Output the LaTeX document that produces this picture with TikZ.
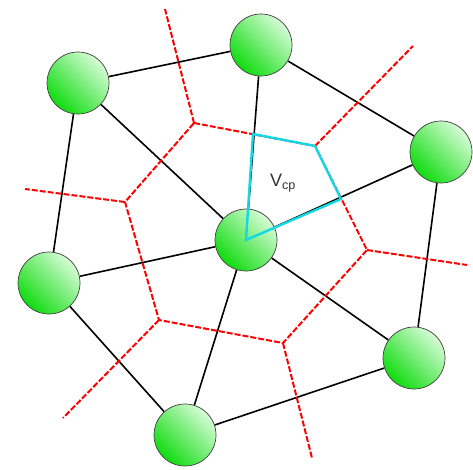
\documentclass[tikz,border=0pt]{standalone}
\usepackage{fontspec}
\setsansfont{Liberation Sans}
\usetikzlibrary{backgrounds}
\definecolor{ballgreen}{RGB}{15,220,15}
\definecolor{ballpale}{RGB}{215,252,215}
\definecolor{cellcyan}{RGB}{20,215,230}
\begin{document}
\begin{tikzpicture}[
  x=1pt, y=-1pt,
  site/.style={circle, draw=black!75, line width=0.7pt, minimum size=62pt, inner sep=0pt,
    bottom color=ballgreen, top color=ballpale, shading angle=-45},
  link/.style={draw=black, line width=1.6pt},
  border/.style={draw=red, line width=2pt, dash pattern=on 6pt off 2pt},
  cell/.style={draw=cellcyan, line width=2.4pt},
  every node/.style={font=\sffamily}
]
\useasboundingbox (0,0) rectangle (473,469);

% sites
\node[site] (A) at (78,83) {};
\node[site] (B) at (261,45) {};
\node[site] (C) at (441,152) {};
\node[site] (D) at (246,240) {};
\node[site] (E) at (49,283) {};
\node[site] (F) at (414,358) {};
\node[site] (G) at (185,435) {};

% voronoi vertices and far ends
\coordinate (v1) at (194,123);
\coordinate (v2) at (315,146);
\coordinate (v3) at (367,250);
\coordinate (v4) at (283,343);
\coordinate (v5) at (159,320);
\coordinate (v6) at (125,202);
\coordinate (r1) at (165,9);
\coordinate (r2) at (413,46);
\coordinate (r3) at (467,265);
\coordinate (r4) at (312,458);
\coordinate (r5) at (63,418);
\coordinate (r6) at (25,189);

\begin{scope}[on background layer]
  % neighbour links
  \draw[link] (A) -- (B);
  \draw[link] (A) -- (E);
  \draw[link] (A) -- (D);
  \draw[link] (B) -- (D);
  \draw[link] (B) -- (C);
  \draw[link] (C) -- (D);
  \draw[link] (C) -- (F);
  \draw[link] (D) -- (E);
  \draw[link] (D) -- (F);
  \draw[link] (D) -- (G);
  \draw[link] (E) -- (G);
  \draw[link] (G) -- (F);
  % cell borders
  \draw[border] (v1) -- (v2) -- (v3) -- (v4) -- (v5) -- (v6) -- cycle;
  \foreach \i in {1,...,6}
    \draw[border] (v\i) -- (r\i);
\end{scope}

% control volume part
\coordinate (m1) at (253,134);
\coordinate (m2) at (341,199);
\draw[cell] (D.center) -- (m1) -- (v2) -- (m2) -- cycle;
\node[text=black!80, font=\sffamily\fontsize{18}{20}\selectfont] (lab) at (283,183) {V\textsubscript{cp}};

\end{tikzpicture}
\end{document}
